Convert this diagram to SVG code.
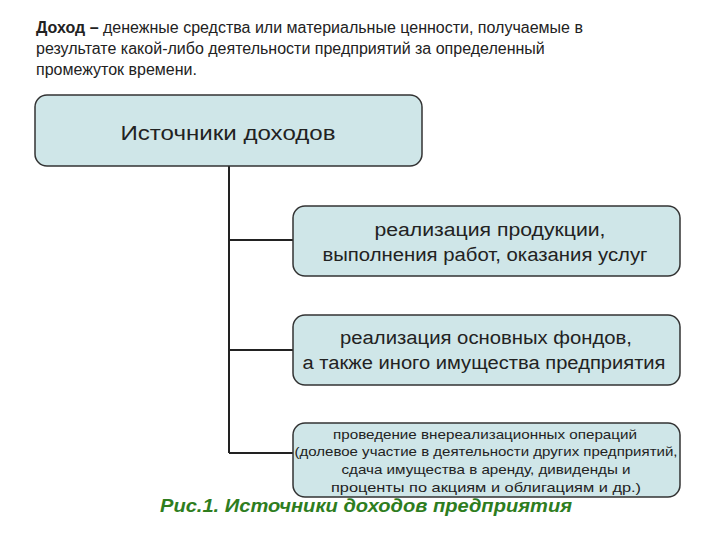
<svg xmlns="http://www.w3.org/2000/svg" width="720" height="540" viewBox="0 0 720 540">
<style>
.box{fill:#cfe6e8;stroke:#333;stroke-width:1.5}
.t{font-family:"Liberation Sans",Arial,sans-serif;fill:#222;text-anchor:middle}
.h{font-family:"Liberation Sans",Arial,sans-serif;fill:#222;font-size:16px}
.ln{stroke:#222;stroke-width:2;fill:none}
</style>
<rect width="720" height="540" fill="#fff"/>
<text class="h" x="36" y="33"><tspan font-weight="bold">Доход –</tspan> денежные средства или материальные ценности, получаемые в</text>
<text class="h" x="36" y="54">результате какой-либо деятельности предприятий за определенный</text>
<text class="h" x="36" y="75">промежуток времени.</text>
<g id="connectors">
<path class="ln" d="M229 166 V453 M229 240 H293 M229 350 H293 M229 453 H293"/>
</g>
<g id="n0"><rect class="box" x="35" y="95" width="387" height="71" rx="12"/><text class="t" x="228" y="140" font-size="21" textLength="215" lengthAdjust="spacingAndGlyphs">Источники доходов</text></g>
<g id="n1"><rect class="box" x="293" y="206" width="387" height="70" rx="12"/><text class="t" x="490" y="236" font-size="18" textLength="231" lengthAdjust="spacingAndGlyphs">реализация продукции,</text><text class="t" x="485" y="261" font-size="18" textLength="325" lengthAdjust="spacingAndGlyphs">выполнения работ, оказания услуг</text></g>
<g id="n2"><rect class="box" x="293" y="315" width="387" height="70" rx="12"/><text class="t" x="486" y="344" font-size="18" textLength="292" lengthAdjust="spacingAndGlyphs">реализация основных фондов,</text><text class="t" x="484" y="369" font-size="18" textLength="363" lengthAdjust="spacingAndGlyphs">а также иного имущества предприятия</text></g>
<g id="n3"><rect class="box" x="293" y="423" width="387" height="74" rx="12"/><text class="t" x="485" y="439" font-size="13" textLength="304" lengthAdjust="spacingAndGlyphs">проведение  внереализационных операций</text><text class="t" x="486" y="456" font-size="13" textLength="383" lengthAdjust="spacingAndGlyphs">(долевое участие в деятельности других предприятий,</text><text class="t" x="486" y="474" font-size="13" textLength="289" lengthAdjust="spacingAndGlyphs">сдача имущества в аренду, дивиденды и</text><text class="t" x="486" y="492" font-size="13" textLength="310" lengthAdjust="spacingAndGlyphs">проценты по акциям и облигациям и др.)</text></g>
<text x="160" y="512" font-family="Liberation Sans,Arial,sans-serif" font-size="18" font-weight="bold" font-style="italic" fill="#2e7d1e" textLength="412" lengthAdjust="spacingAndGlyphs">Рис.1. Источники доходов предприятия</text>
</svg>
